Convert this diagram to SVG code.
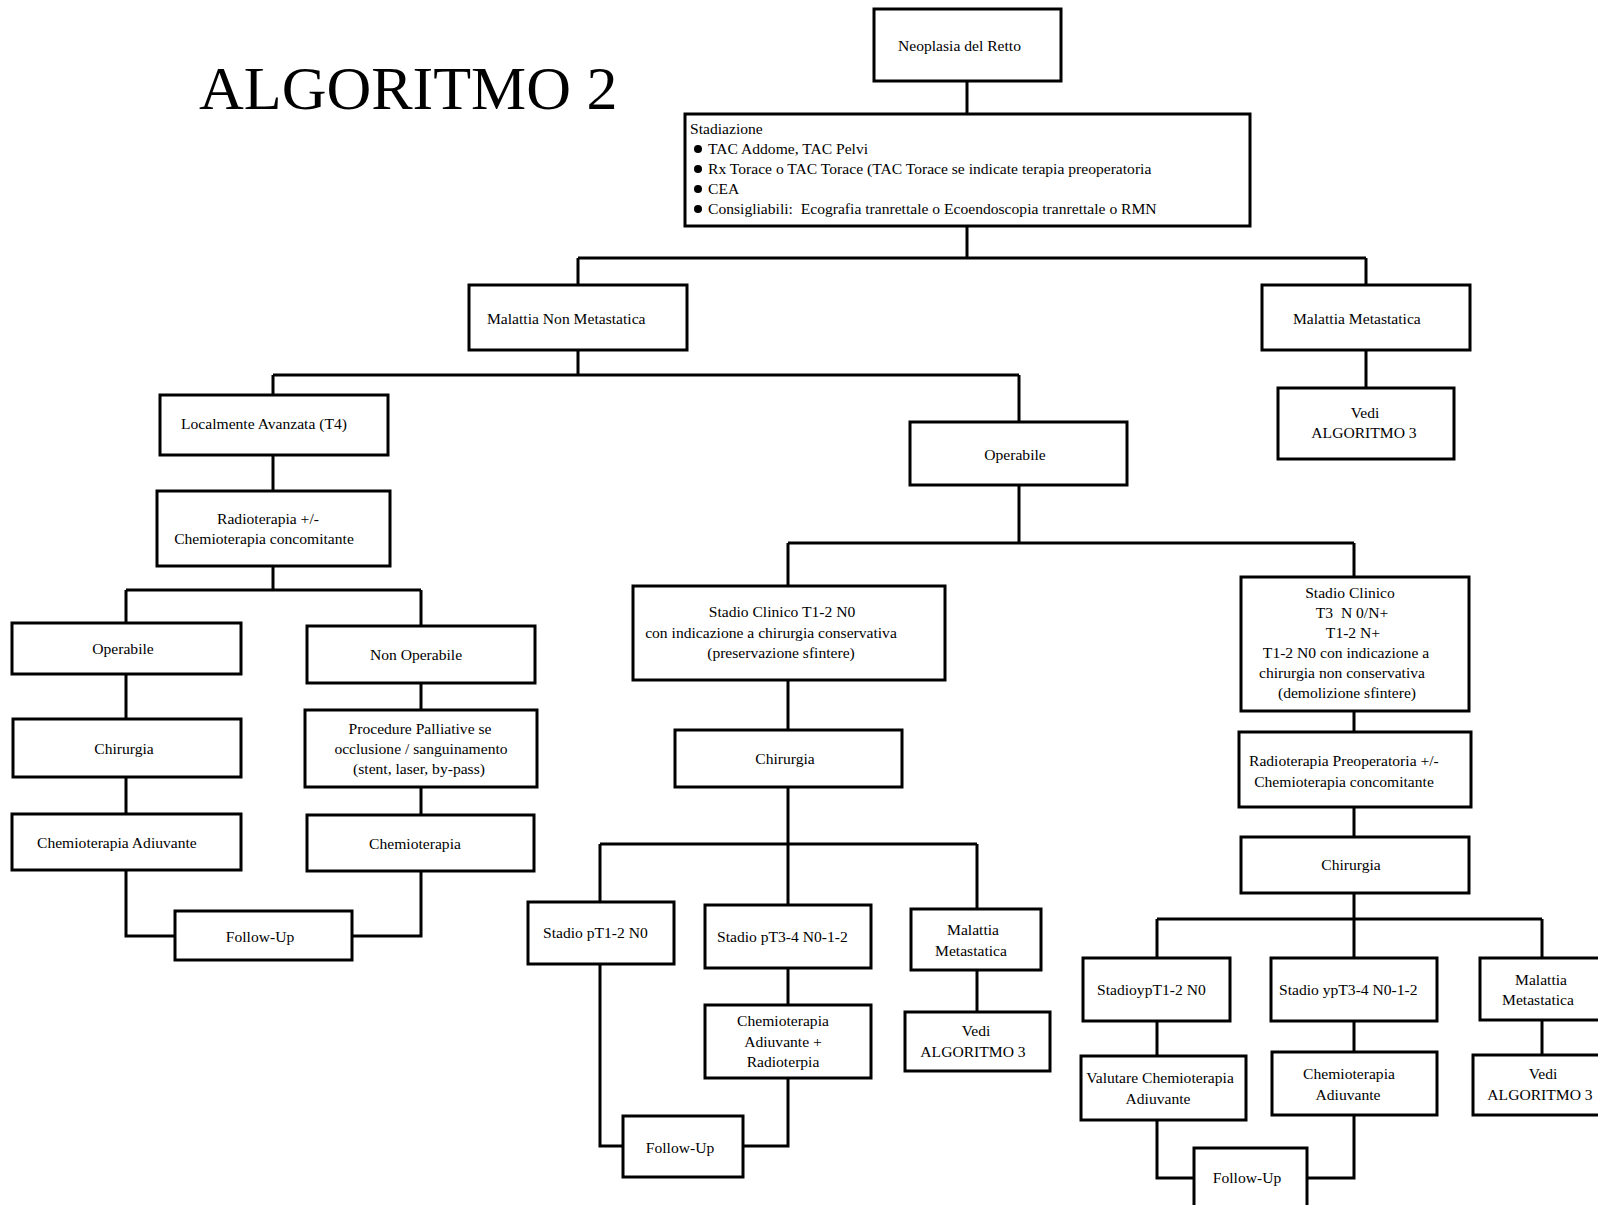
<svg xmlns="http://www.w3.org/2000/svg" width="1598" height="1205" viewBox="0 0 1598 1205">
<style>
.box{fill:#fff;stroke:#000;stroke-width:3}
.c{fill:none;stroke:#000;stroke-width:3}
text{font-family:"Liberation Serif","Times New Roman",serif;font-size:15.6px;fill:#000}
.m{text-anchor:middle}
.title{font-size:62px}
</style>
<rect width="1598" height="1205" fill="#fff"/>
<text class="title" x="199" y="109">ALGORITMO 2</text>

<g id="connectors">
<path class="c" d="M967,81V114"/>
<path class="c" d="M967,226V258M578,258H1366M578,258V285M1366,258V285"/>
<path class="c" d="M1366,350V388"/>
<path class="c" d="M578,350V375M273,375H1019M273,375V395M1019,375V422"/>
<path class="c" d="M273,455V491"/>
<path class="c" d="M273,566V590M126,590H421M126,590V623M421,590V626"/>
<path class="c" d="M126,674V719M126,777V814M126,870V936H175"/>
<path class="c" d="M352,936H421V871"/>
<path class="c" d="M421,683V710M421,787V815"/>
<path class="c" d="M1019,485V543M788,543H1354M788,543V586M1354,543V577"/>
<path class="c" d="M788,680V730M788,787V844M600,844H977M600,844V902M788,844V905M977,844V909"/>
<path class="c" d="M977,970V1012M788,968V1005M788,1078V1146H743M600,964V1146H623"/>
<path class="c" d="M1354,711V732M1354,807V837M1354,893V919M1157,919H1542M1157,919V958M1354,919V958M1542,919V958"/>
<path class="c" d="M1542,1020V1055M1157,1021V1056M1354,1021V1052"/>
<path class="c" d="M1157,1120V1178H1194M1354,1115V1178H1307"/>
</g>

<g id="neoplasia"><rect class="box" x="874" y="9" width="187" height="72"/><text x="898" y="51">Neoplasia del Retto</text></g>

<g id="stadiazione"><rect class="box" x="685" y="114" width="565" height="112"/>
<text x="690" y="134">Stadiazione</text>
<circle cx="698" cy="149" r="4"/><text x="708" y="154">TAC Addome, TAC Pelvi</text>
<circle cx="698" cy="169" r="4"/><text x="708" y="174">Rx Torace o TAC Torace (TAC Torace se indicate terapia preoperatoria</text>
<circle cx="698" cy="189" r="4"/><text x="708" y="194">CEA</text>
<circle cx="698" cy="209" r="4"/><text x="708" y="214" xml:space="preserve">Consigliabili:  Ecografia tranrettale o Ecoendoscopia tranrettale o RMN</text>
</g>

<g id="non-metastatica"><rect class="box" x="469" y="285" width="218" height="65"/><text x="487" y="324">Malattia Non Metastatica</text></g>
<g id="metastatica"><rect class="box" x="1262" y="285" width="208" height="65"/><text x="1293" y="324">Malattia Metastatica</text></g>
<g id="vedi-1"><rect class="box" x="1278" y="388" width="176" height="71"/><text class="m" x="1365" y="418">Vedi</text><text class="m" x="1364" y="438">ALGORITMO 3</text></g>

<g id="localmente"><rect class="box" x="160" y="395" width="228" height="60"/><text x="181" y="429">Localmente Avanzata (T4)</text></g>
<g id="radio-chemio"><rect class="box" x="157" y="491" width="233" height="75"/><text class="m" x="268" y="524">Radioterapia +/-</text><text class="m" x="264" y="544">Chemioterapia concomitante</text></g>

<g id="operabile-l"><rect class="box" x="12" y="623" width="229" height="51"/><text class="m" x="123" y="654">Operabile</text></g>
<g id="chirurgia-l"><rect class="box" x="13" y="719" width="228" height="58"/><text class="m" x="124" y="754">Chirurgia</text></g>
<g id="chemio-adiuvante-l"><rect class="box" x="12" y="814" width="229" height="56"/><text x="37" y="848">Chemioterapia Adiuvante</text></g>
<g id="followup-l"><rect class="box" x="175" y="911" width="177" height="49"/><text class="m" x="260" y="942">Follow-Up</text></g>

<g id="non-operabile"><rect class="box" x="307" y="626" width="228" height="57"/><text class="m" x="416" y="660">Non Operabile</text></g>
<g id="palliative"><rect class="box" x="305" y="710" width="232" height="77"/><text class="m" x="420" y="734">Procedure Palliative se</text><text class="m" x="421" y="754">occlusione / sanguinamento</text><text class="m" x="419" y="774">(stent, laser, by-pass)</text></g>
<g id="chemioterapia-l"><rect class="box" x="307" y="815" width="227" height="56"/><text class="m" x="415" y="849">Chemioterapia</text></g>

<g id="operabile-m"><rect class="box" x="910" y="422" width="217" height="63"/><text class="m" x="1015" y="460">Operabile</text></g>

<g id="clinico-t12"><rect class="box" x="633" y="586" width="312" height="94"/><text class="m" x="782" y="617">Stadio Clinico T1-2 N0</text><text class="m" x="771" y="638">con indicazione a chirurgia conservativa</text><text class="m" x="781" y="658">(preservazione sfintere)</text></g>
<g id="chirurgia-m"><rect class="box" x="675" y="730" width="227" height="57"/><text class="m" x="785" y="764">Chirurgia</text></g>
<g id="pt12"><rect class="box" x="528" y="902" width="146" height="62"/><text x="543" y="938">Stadio pT1-2 N0</text></g>
<g id="pt34"><rect class="box" x="705" y="905" width="166" height="63"/><text x="717" y="942">Stadio pT3-4 N0-1-2</text></g>
<g id="metastatica-m"><rect class="box" x="911" y="909" width="130" height="61"/><text class="m" x="973" y="935">Malattia</text><text class="m" x="971" y="956">Metastatica</text></g>
<g id="vedi-2"><rect class="box" x="905" y="1012" width="145" height="59"/><text class="m" x="976" y="1036">Vedi</text><text class="m" x="973" y="1057">ALGORITMO 3</text></g>
<g id="chemio-radio-m"><rect class="box" x="705" y="1005" width="166" height="73"/><text class="m" x="783" y="1026">Chemioterapia</text><text class="m" x="783" y="1047">Adiuvante +</text><text class="m" x="783" y="1067">Radioterpia</text></g>
<g id="followup-m"><rect class="box" x="623" y="1116" width="120" height="61"/><text class="m" x="680" y="1153">Follow-Up</text></g>

<g id="clinico-t3"><rect class="box" x="1241" y="577" width="228" height="134"/>
<text class="m" x="1350" y="598">Stadio Clinico</text>
<text class="m" x="1352" y="618" xml:space="preserve">T3  N 0/N+</text>
<text class="m" x="1353" y="638">T1-2 N+</text>
<text class="m" x="1346" y="658">T1-2 N0 con indicazione a</text>
<text class="m" x="1342" y="678">chirurgia non conservativa</text>
<text class="m" x="1347" y="698">(demolizione sfintere)</text></g>
<g id="radio-preop"><rect class="box" x="1239" y="732" width="232" height="75"/><text x="1249" y="766">Radioterapia Preoperatoria +/-</text><text class="m" x="1344" y="787">Chemioterapia concomitante</text></g>
<g id="chirurgia-r"><rect class="box" x="1241" y="837" width="228" height="56"/><text class="m" x="1351" y="870">Chirurgia</text></g>
<g id="ypt12"><rect class="box" x="1083" y="958" width="147" height="63"/><text x="1097" y="995">StadioypT1-2 N0</text></g>
<g id="ypt34"><rect class="box" x="1271" y="958" width="166" height="63"/><text x="1279" y="995">Stadio ypT3-4 N0-1-2</text></g>
<g id="metastatica-r"><rect class="box" x="1480" y="958" width="150" height="62"/><text class="m" x="1541" y="985">Malattia</text><text class="m" x="1538" y="1005">Metastatica</text></g>
<g id="vedi-3"><rect class="box" x="1473" y="1055" width="160" height="60"/><text class="m" x="1543" y="1079">Vedi</text><text class="m" x="1540" y="1100">ALGORITMO 3</text></g>
<g id="valutare"><rect class="box" x="1081" y="1056" width="165" height="64"/><text class="m" x="1160" y="1083">Valutare Chemioterapia</text><text class="m" x="1158" y="1104">Adiuvante</text></g>
<g id="chemio-adiuvante-r"><rect class="box" x="1272" y="1052" width="165" height="63"/><text class="m" x="1349" y="1079">Chemioterapia</text><text class="m" x="1348" y="1100">Adiuvante</text></g>
<g id="followup-r"><rect class="box" x="1194" y="1148" width="113" height="80"/><text class="m" x="1247" y="1183">Follow-Up</text></g>
</svg>
